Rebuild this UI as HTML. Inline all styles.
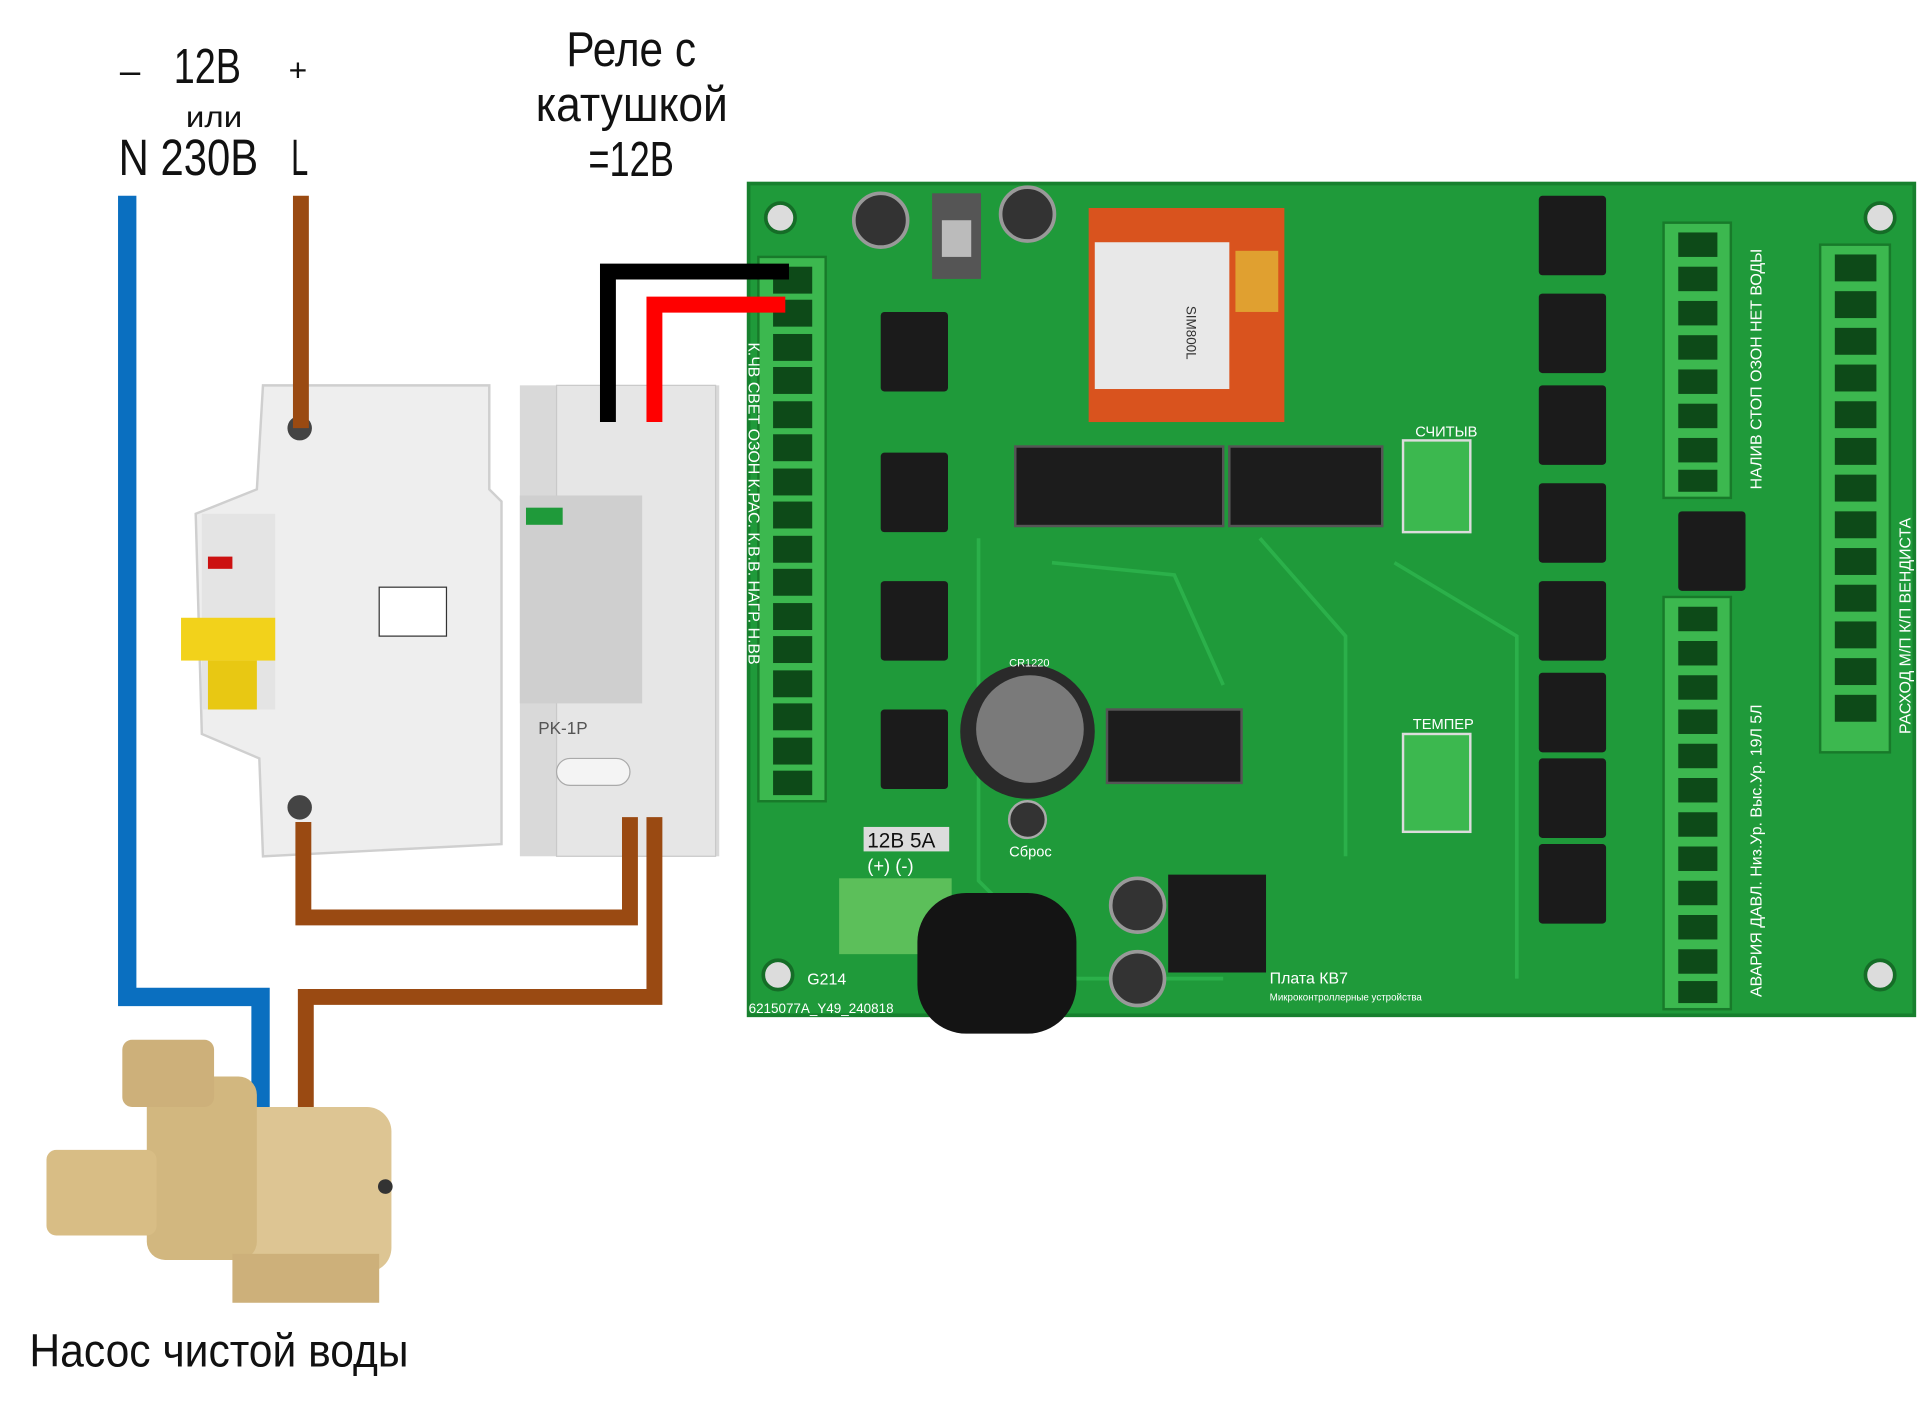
<!DOCTYPE html>
<html><head><meta charset="utf-8"><style>
html,body{margin:0;padding:0;background:#fff;}
svg{display:block;}
text{font-family:"Liberation Sans","DejaVu Sans",sans-serif;}
</style></head><body>
<svg width="1918" height="1408" viewBox="0 0 1568 1151" xmlns="http://www.w3.org/2000/svg">
<rect width="1568" height="1151" fill="#fff"/>
<text x="98" y="68" font-size="30" fill="#111">–</text>
<text x="142" y="68" font-size="40" fill="#111" textLength="55" lengthAdjust="spacingAndGlyphs">12В</text>
<text x="236" y="66" font-size="26" fill="#111">+</text>
<text x="152" y="104" font-size="24" fill="#111" textLength="46" lengthAdjust="spacingAndGlyphs">или</text>
<text x="97" y="143" font-size="42" fill="#111" textLength="114" lengthAdjust="spacingAndGlyphs">N 230В</text>
<text x="238" y="143" font-size="42" fill="#111" textLength="14" lengthAdjust="spacingAndGlyphs">L</text>
<text x="463" y="54" font-size="40" fill="#111" textLength="106" lengthAdjust="spacingAndGlyphs">Реле с</text>
<text x="438" y="99" font-size="40" fill="#111" textLength="157" lengthAdjust="spacingAndGlyphs">катушкой</text>
<text x="481" y="144" font-size="40" fill="#111" textLength="70" lengthAdjust="spacingAndGlyphs">=12В</text>

<rect x="612" y="150" width="953" height="680" fill="#1f9a3a"/>
<rect x="612" y="150" width="953" height="680" fill="none" stroke="#17802e" stroke-width="3"/>
<circle cx="638" cy="178" r="12" fill="#dcdcdc" stroke="#156d27" stroke-width="3"/>
<circle cx="1537" cy="178" r="12" fill="#dcdcdc" stroke="#156d27" stroke-width="3"/>
<circle cx="636" cy="797" r="12" fill="#dcdcdc" stroke="#156d27" stroke-width="3"/>
<circle cx="1537" cy="797" r="12" fill="#dcdcdc" stroke="#156d27" stroke-width="3"/>
<g stroke="#2bb04a" stroke-width="3" fill="none">
<path d="M800 440 L800 720 L880 800 L1000 800"/>
<path d="M1030 440 L1100 520 L1100 700"/>
<path d="M1140 460 L1240 520 L1240 800"/>
<path d="M860 460 L960 470 L1000 560"/>
</g>
<rect x="620" y="210" width="55" height="445" fill="#3cb84f" stroke="#187a2a" stroke-width="2"/>
<g fill="#0d4a18">
<rect x="632" y="218" width="32" height="22"/><rect x="632" y="245" width="32" height="22"/>
<rect x="632" y="273" width="32" height="22"/><rect x="632" y="300" width="32" height="22"/>
<rect x="632" y="328" width="32" height="22"/><rect x="632" y="355" width="32" height="22"/>
<rect x="632" y="383" width="32" height="22"/><rect x="632" y="410" width="32" height="22"/>
<rect x="632" y="438" width="32" height="22"/><rect x="632" y="465" width="32" height="22"/>
<rect x="632" y="493" width="32" height="22"/><rect x="632" y="520" width="32" height="22"/>
<rect x="632" y="548" width="32" height="22"/><rect x="632" y="575" width="32" height="22"/>
<rect x="632" y="603" width="32" height="22"/><rect x="632" y="630" width="32" height="20"/>
</g>
<text transform="translate(612,280) rotate(90)" font-size="13" fill="#fff">К.ЧВ  СВЕТ  ОЗОН  К.РАС.  К.В.В.  НАГР.  Н.ВВ</text>
<circle cx="720" cy="180" r="22" fill="#333" stroke="#999" stroke-width="3"/>
<circle cx="840" cy="175" r="22" fill="#333" stroke="#999" stroke-width="3"/>
<rect x="762" y="158" width="40" height="70" fill="#555"/>
<rect x="770" y="180" width="24" height="30" fill="#bbb"/>
<rect x="890" y="170" width="160" height="175" fill="#d9531e"/>
<rect x="895" y="198" width="110" height="120" fill="#e8e8e8"/>
<rect x="1010" y="205" width="35" height="50" fill="#e0a030"/>
<text transform="translate(970,250) rotate(90)" font-size="11" fill="#333">SIM800L</text>
<g fill="#1b1b1b">
<rect x="720" y="255" width="55" height="65" rx="3"/>
<rect x="720" y="370" width="55" height="65" rx="3"/>
<rect x="720" y="475" width="55" height="65" rx="3"/>
<rect x="720" y="580" width="55" height="65" rx="3"/>
<rect x="1258" y="160" width="55" height="65" rx="3"/>
<rect x="1258" y="240" width="55" height="65" rx="3"/>
<rect x="1258" y="315" width="55" height="65" rx="3"/>
<rect x="1258" y="395" width="55" height="65" rx="3"/>
<rect x="1258" y="475" width="55" height="65" rx="3"/>
<rect x="1258" y="550" width="55" height="65" rx="3"/>
<rect x="1258" y="620" width="55" height="65" rx="3"/>
<rect x="1258" y="690" width="55" height="65" rx="3"/>
<rect x="1372" y="418" width="55" height="65" rx="3"/>
</g>
<rect x="830" y="365" width="170" height="65" fill="#1c1c1c" stroke="#555" stroke-width="2"/>
<rect x="1005" y="365" width="125" height="65" fill="#1c1c1c" stroke="#555" stroke-width="2"/>
<rect x="905" y="580" width="110" height="60" fill="#1c1c1c" stroke="#555" stroke-width="2"/>
<rect x="1147" y="360" width="55" height="75" fill="#3cb84f" stroke="#dcdcdc" stroke-width="2"/>
<text x="1157" y="357" font-size="12" fill="#fff">СЧИТЫВ</text>
<rect x="1147" y="600" width="55" height="80" fill="#3cb84f" stroke="#dcdcdc" stroke-width="2"/>
<text x="1155" y="596" font-size="12" fill="#fff">ТЕМПЕР</text>
<rect x="1360" y="182" width="55" height="225" fill="#3cb84f" stroke="#187a2a" stroke-width="2"/>
<rect x="1360" y="488" width="55" height="337" fill="#3cb84f" stroke="#187a2a" stroke-width="2"/>
<rect x="1488" y="200" width="57" height="415" fill="#3cb84f" stroke="#187a2a" stroke-width="2"/>
<g fill="#0d4a18">
<rect x="1372" y="190" width="32" height="20"/><rect x="1372" y="218" width="32" height="20"/><rect x="1372" y="246" width="32" height="20"/><rect x="1372" y="274" width="32" height="20"/><rect x="1372" y="302" width="32" height="20"/><rect x="1372" y="330" width="32" height="20"/><rect x="1372" y="358" width="32" height="20"/><rect x="1372" y="384" width="32" height="18"/>
<rect x="1372" y="496" width="32" height="20"/><rect x="1372" y="524" width="32" height="20"/><rect x="1372" y="552" width="32" height="20"/><rect x="1372" y="580" width="32" height="20"/><rect x="1372" y="608" width="32" height="20"/><rect x="1372" y="636" width="32" height="20"/><rect x="1372" y="664" width="32" height="20"/><rect x="1372" y="692" width="32" height="20"/><rect x="1372" y="720" width="32" height="20"/><rect x="1372" y="748" width="32" height="20"/><rect x="1372" y="776" width="32" height="20"/><rect x="1372" y="802" width="32" height="18"/>
<rect x="1500" y="208" width="34" height="22"/><rect x="1500" y="238" width="34" height="22"/><rect x="1500" y="268" width="34" height="22"/><rect x="1500" y="298" width="34" height="22"/><rect x="1500" y="328" width="34" height="22"/><rect x="1500" y="358" width="34" height="22"/><rect x="1500" y="388" width="34" height="22"/><rect x="1500" y="418" width="34" height="22"/><rect x="1500" y="448" width="34" height="22"/><rect x="1500" y="478" width="34" height="22"/><rect x="1500" y="508" width="34" height="22"/><rect x="1500" y="538" width="34" height="22"/><rect x="1500" y="568" width="34" height="22"/>
</g>
<text transform="translate(1440,400) rotate(-90)" font-size="13" fill="#fff">НАЛИВ  СТОП  ОЗОН  НЕТ ВОДЫ</text>
<text transform="translate(1440,815) rotate(-90)" font-size="13" fill="#fff">АВАРИЯ  ДАВЛ.  Низ.Ур.  Выс.Ур.  19Л  5Л</text>
<text transform="translate(1562,600) rotate(-90)" font-size="13" fill="#fff">РАСХОД   М/П   К/П   ВЕНДИСТА</text>
<circle cx="840" cy="598" r="55" fill="#2a2a2a"/>
<circle cx="842" cy="596" r="44" fill="#7a7a7a"/>
<text x="825" y="545" font-size="9" fill="#fff">CR1220</text>
<circle cx="840" cy="670" r="15" fill="#333" stroke="#aaa" stroke-width="2"/>
<text x="825" y="700" font-size="12" fill="#fff">Сброс</text>
<rect x="706" y="676" width="70" height="20" fill="#dcdcdc"/>
<text x="709" y="693" font-size="17" fill="#111">12В 5А</text>
<text x="709" y="713" font-size="15" fill="#fff">(+)  (-)</text>
<rect x="686" y="718" width="92" height="62" fill="#5cbf5a"/>
<rect x="750" y="730" width="130" height="115" rx="40" fill="#141414"/>
<circle cx="930" cy="740" r="22" fill="#333" stroke="#999" stroke-width="3"/>
<circle cx="930" cy="800" r="22" fill="#333" stroke="#999" stroke-width="3"/>
<rect x="955" y="715" width="80" height="80" fill="#1a1a1a"/>
<text x="660" y="805" font-size="13" fill="#fff">G214</text>
<text x="612" y="828" font-size="11" fill="#fff">6215077A_Y49_240818</text>
<text x="1038" y="804" font-size="13" fill="#fff">Плата КВ7</text>
<text x="1038" y="818" font-size="8" fill="#fff">Микроконтроллерные устройства</text>

<path d="M215 315 L400 315 L400 400 L410 410 L410 690 L215 700 L212 620 L165 600 L160 420 L210 400 Z" fill="#eeeeee" stroke="#cfcfcf" stroke-width="2"/>
<rect x="165" y="420" width="60" height="160" fill="#e4e4e4"/>
<rect x="148" y="505" width="77" height="35" fill="#f2d21b"/>
<rect x="170" y="540" width="40" height="40" fill="#e8c813"/>
<rect x="170" y="455" width="20" height="10" fill="#cc1111"/>
<rect x="310" y="480" width="55" height="40" fill="#fff" stroke="#333"/>
<circle cx="245" cy="350" r="10" fill="#444"/>
<circle cx="245" cy="660" r="10" fill="#444"/>
<rect x="425" y="315" width="163" height="385" fill="#d9d9d9"/>
<rect x="455" y="315" width="130" height="385" fill="#e6e6e6" stroke="#c9c9c9"/>
<rect x="425" y="405" width="100" height="170" fill="#cfcfcf"/>
<rect x="430" y="415" width="30" height="14" fill="#1f9a3a"/>
<text x="440" y="600" font-size="14" fill="#555">PK-1P</text>
<rect x="455" y="620" width="60" height="22" rx="11" fill="#f4f4f4" stroke="#aaa"/>

<g fill="none" stroke-linejoin="miter" stroke-linecap="butt">
<path d="M104 160 L104 815 L213 815 L213 912" stroke="#0a6fc0" stroke-width="15"/>
<path d="M246 160 L246 350" stroke="#9a4a12" stroke-width="13"/>
<path d="M497 345 L497 222 L645 222" stroke="#000" stroke-width="13"/>
<path d="M535 345 L535 249 L642 249" stroke="#ff0000" stroke-width="13"/>
<path d="M248 672 L248 750 L515 750 L515 668" stroke="#9a4a12" stroke-width="13"/>
<path d="M535 668 L535 815 L250 815 L250 912" stroke="#9a4a12" stroke-width="13"/>
</g>

<rect x="190" y="905" width="130" height="135" rx="20" fill="#ddc593"/>
<rect x="120" y="880" width="90" height="150" rx="15" fill="#d2b77f"/>
<rect x="100" y="850" width="75" height="55" rx="8" fill="#cdb07a"/>
<rect x="38" y="940" width="90" height="70" rx="8" fill="#d8bd85"/>
<rect x="190" y="1025" width="120" height="40" fill="#cdb07a"/>
<circle cx="315" cy="970" r="6" fill="#333"/>

<text x="24" y="1117" font-size="38" fill="#111" textLength="310" lengthAdjust="spacingAndGlyphs">Насос чистой воды</text>
</svg>
</body></html>
